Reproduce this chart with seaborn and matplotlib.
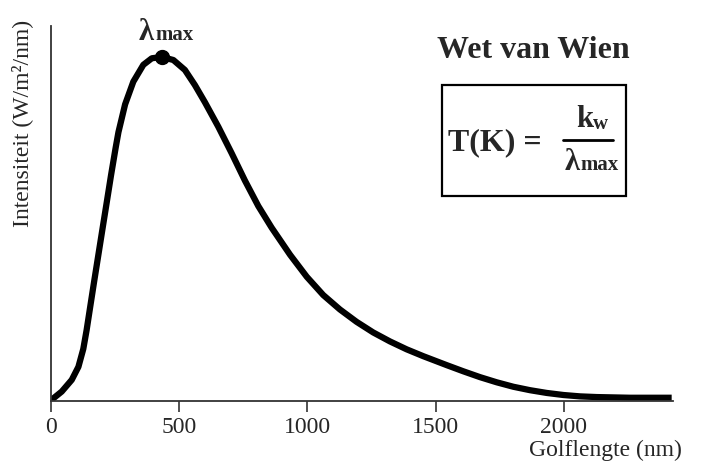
import numpy as np
import pandas as pd
import matplotlib
matplotlib.use("Agg")
import matplotlib.pyplot as plt
import seaborn as sns
from matplotlib.lines import Line2D
from matplotlib.patches import Rectangle

# ---- data ----
wavelength_nm = [0, 43, 82, 108, 127, 140, 153, 169, 186, 203, 218, 235, 253,
                 264, 290, 322, 361, 394, 433, 478, 523, 562, 601, 653, 705,
                 757, 809, 861, 933, 998, 1062, 1127, 1192, 1257, 1322, 1387,
                 1452, 1543, 1608, 1673, 1738, 1803, 1868, 1933, 1998, 2063,
                 2128, 2258, 2420]
intensity = [0.0, 0.026, 0.060, 0.098, 0.150, 0.205, 0.268, 0.345, 0.425,
             0.505, 0.575, 0.655, 0.735, 0.781, 0.862, 0.928, 0.977, 0.996,
             1.0, 0.991, 0.962, 0.918, 0.868, 0.797, 0.720, 0.640, 0.566,
             0.503, 0.424, 0.360, 0.307, 0.265, 0.229, 0.198, 0.172, 0.149,
             0.129, 0.103, 0.085, 0.068, 0.053, 0.040, 0.030, 0.022, 0.016,
             0.012, 0.010, 0.008, 0.008]
peak_nm = [433]
peak_val = [1.0]
xticks = [0, 500, 1000, 1500, 2000]

df = pd.DataFrame({"wl": wavelength_nm, "I": intensity})

sns.set_theme(style="white")
plt.rcParams["font.family"] = ["Liberation Serif", "DejaVu Serif"]

W, H = 708, 463
fig = plt.figure(figsize=(W / 100, H / 100), dpi=100)
ax = fig.add_axes([50.7 / W, 1 - 400.5 / H, (672.7 - 50.7) / W, (400.5 - 26) / H])

sns.lineplot(data=df, x="wl", y="I", ax=ax, color="black", linewidth=4.5,
             estimator=None, sort=False)
for l in ax.lines:
    l.set_solid_capstyle("butt")
    l.set_solid_joinstyle("round")
ax.plot(peak_nm, peak_val, "o", color="black", markersize=10, zorder=5)

ax.set_xlim(0, 2424)
ax.set_ylim(0, 1.09)
ax.set_xticks(xticks)
ax.set_xticklabels([str(t) for t in xticks], fontsize=17)
ax.set_yticks([])
ax.set_xlabel("")
ax.set_ylabel("")
ax.tick_params(axis="x", direction="out", length=8, width=1.2, color="#333333",
               pad=4, bottom=True)
for s in ["top", "right"]:
    ax.spines[s].set_visible(False)
for s in ["left", "bottom"]:
    ax.spines[s].set_color("#333333")
    ax.spines[s].set_linewidth(1.3)

# axis titles
fig.text(682 / W, 1 - 450 / H, "Golflengte (nm)", fontsize=17, ha="right",
         va="center")
fig.text(22 / W, 1 - 20 / H, "Intensiteit (W/m²/nm)", fontsize=17,
         rotation=90, ha="center", va="top")

# lambda_max label
fig.text(146 / W, 1 - 33 / H, "λ", fontsize=22, fontweight="bold",
         ha="center", va="center")
fig.text(155 / W, 1 - 35 / H, "max", fontsize=15, fontweight="bold",
         ha="left", va="center")

# Wien's law box
fig.text(533 / W, 1 - 51 / H, "Wet van Wien", fontsize=23, fontweight="bold",
         ha="center", va="center")
fig.patches.append(Rectangle((442.3 / W, 1 - 195.7 / H), (625.7 - 442.3) / W,
                             (195.7 - 85) / H, transform=fig.transFigure,
                             fill=False, edgecolor="black", linewidth=1.6))
fig.text(448 / W, 1 - 143 / H, "T(K) =", fontsize=23, fontweight="bold",
         ha="left", va="center")
fig.text(585 / W, 1 - 119 / H, "k", fontsize=22, fontweight="bold",
         ha="center", va="center")
fig.text(593 / W, 1 - 124 / H, "w", fontsize=15, fontweight="bold",
         ha="left", va="center")
fig.add_artist(Line2D([563 / W, 613 / W], [1 - 140 / H, 1 - 140 / H],
                      transform=fig.transFigure, color="black", linewidth=2))
fig.text(572 / W, 1 - 162 / H, "λ", fontsize=22, fontweight="bold",
         ha="center", va="center")
fig.text(580 / W, 1 - 165 / H, "max", fontsize=15, fontweight="bold",
         ha="left", va="center")

fig.savefig("out.png", dpi=100)
